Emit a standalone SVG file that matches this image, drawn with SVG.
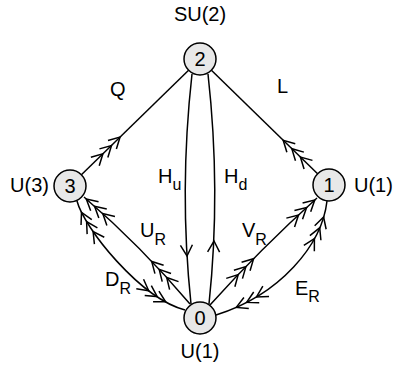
<svg xmlns="http://www.w3.org/2000/svg" xmlns:xlink="http://www.w3.org/1999/xlink" width="394" height="370" viewBox="0 0 394 370">
<style>
.ln{fill:none;stroke:#000;stroke-width:1.5}
.nd{fill:#e8e8e8;stroke:#000;stroke-width:1.5}
.t{font-family:"Liberation Sans",Arial,sans-serif;font-size:20px;fill:#000}
.s{font-size:16px}
</style>
<defs>
<path id="ch" d="M-11,-6 L0,0 L-11,6" fill="none" stroke="#000" stroke-width="1.5"/>
</defs>
<rect width="394" height="370" fill="#fff"/>
<g id="connectors">
<path class="ln" d="M81.4,174.8 L188.6,70.2"/>
<path class="ln" d="M317.6,173.8 L211.4,70.2"/>
<path class="ln" d="M192,74 Q179,190.5 191,304"/>
<path class="ln" d="M208,74 Q221,190.5 209,304"/>
<path class="ln" d="M84,197 Q141.2,246.3 190,304"/>
<path class="ln" d="M77,201 C84,228 140,298 185,310"/>
<path class="ln" d="M210,305 Q260.7,248.7 317,198"/>
<path class="ln" d="M327,201 C322,245 280,295 216,315"/>
<!-- Q -->
<use xlink:href="#ch" transform="translate(120.05,137.07) rotate(-44.35)"/>
<use xlink:href="#ch" transform="translate(111.5,145.5) rotate(-44.35)"/>
<use xlink:href="#ch" transform="translate(102.9,153.8) rotate(-44.35)"/>
<!-- L -->
<use xlink:href="#ch" transform="translate(283.2,140.3) rotate(-135.65)"/>
<use xlink:href="#ch" transform="translate(291.8,148.7) rotate(-135.65)"/>
<use xlink:href="#ch" transform="translate(300.4,157) rotate(-135.65)"/>
<!-- H -->
<use xlink:href="#ch" transform="translate(187,256) rotate(87)"/>
<use xlink:href="#ch" transform="translate(214,241) rotate(-88)"/>
<!-- V_R -->
<use xlink:href="#ch" transform="translate(314.75,200) rotate(-42.5)"/>
<use xlink:href="#ch" transform="translate(306.6,207.5) rotate(-42.5)"/>
<use xlink:href="#ch" transform="translate(298.5,215) rotate(-43)"/>
<use xlink:href="#ch" transform="translate(253.6,258.7) rotate(-45)"/>
<use xlink:href="#ch" transform="translate(245.9,266.6) rotate(-45.5)"/>
<use xlink:href="#ch" transform="translate(238.2,274.6) rotate(-46)"/>
<!-- E_R -->
<use xlink:href="#ch" transform="translate(323.6,217) rotate(-73.1)"/>
<use xlink:href="#ch" transform="translate(319.7,227.8) rotate(-66.9)"/>
<use xlink:href="#ch" transform="translate(314.4,238.6) rotate(-61.1)"/>
<use xlink:href="#ch" transform="translate(236.3,307.4) rotate(156.1)"/>
<use xlink:href="#ch" transform="translate(246.7,302.4) rotate(152.5)"/>
<use xlink:href="#ch" transform="translate(256.5,296.9) rotate(149)"/>
<!-- U_R -->
<use xlink:href="#ch" transform="translate(86.3,199) rotate(-139)"/>
<use xlink:href="#ch" transform="translate(94.56,206.2) rotate(-138.5)"/>
<use xlink:href="#ch" transform="translate(102.77,213.6) rotate(-137.7)"/>
<use xlink:href="#ch" transform="translate(151.7,261.5) rotate(-133.6)"/>
<use xlink:href="#ch" transform="translate(159.2,269.4) rotate(-132.5)"/>
<use xlink:href="#ch" transform="translate(166.7,277.5) rotate(-132)"/>
<!-- D_R -->
<use xlink:href="#ch" transform="translate(81.5,212.4) rotate(-116.5)"/>
<use xlink:href="#ch" transform="translate(86.6,221.6) rotate(-121.1)"/>
<use xlink:href="#ch" transform="translate(93.1,231.6) rotate(-124.6)"/>
<use xlink:href="#ch" transform="translate(148.7,290.7) rotate(37.1)"/>
<use xlink:href="#ch" transform="translate(157.2,296.6) rotate(33.5)"/>
<use xlink:href="#ch" transform="translate(165.6,301.8) rotate(29.3)"/>
</g>
<g id="edge-labels">
<text class="t" x="110" y="96">Q</text>
<text class="t" x="277" y="93">L</text>
<text class="t" x="158" y="183">H<tspan class="s" dy="7">u</tspan></text>
<text class="t" x="224" y="183">H<tspan class="s" dy="7">d</tspan></text>
<text class="t" x="140" y="237">U<tspan class="s" dy="8">R</tspan></text>
<text class="t" x="105" y="286">D<tspan class="s" dy="8">R</tspan></text>
<text class="t" x="242" y="237">V<tspan class="s" dy="8">R</tspan></text>
<text class="t" x="295" y="295">E<tspan class="s" dy="7">R</tspan></text>
</g>
<g id="node2">
<circle class="nd" cx="200" cy="59" r="16"/>
<text class="t" x="200" y="66" text-anchor="middle">2</text>
<text class="t" x="200" y="21" text-anchor="middle">SU(2)</text>
</g>
<g id="node3">
<circle class="nd" cx="70" cy="186" r="16"/>
<text class="t" x="70" y="193" text-anchor="middle">3</text>
<text class="t" x="49" y="192" text-anchor="end">U(3)</text>
</g>
<g id="node1">
<circle class="nd" cx="329" cy="185" r="16"/>
<text class="t" x="329" y="192" text-anchor="middle">1</text>
<text class="t" x="354" y="192">U(1)</text>
</g>
<g id="node0">
<circle class="nd" cx="200" cy="318" r="16"/>
<text class="t" x="200" y="325" text-anchor="middle">0</text>
<text class="t" x="200" y="358" text-anchor="middle">U(1)</text>
</g>
</svg>
